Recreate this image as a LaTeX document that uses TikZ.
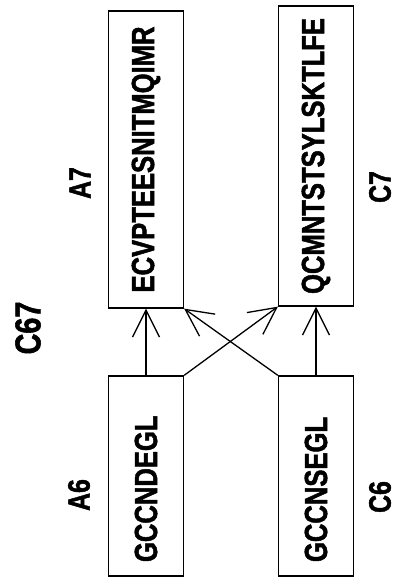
\documentclass[tikz,border=0pt]{standalone}
\usepackage{fontspec}
\newfontfamily\seqfont{Liberation Sans Bold}[FakeStretch=0.8,FakeBold=1.5]
\usetikzlibrary{arrows.meta}
\tikzstyle{seq} = [draw,line width=1.3pt,rotate=90,minimum height=75pt,inner sep=0pt,font=\seqfont\fontsize{32}{36}\selectfont]
\tikzstyle{lab} = [rotate=90,inner sep=0pt,font=\seqfont\fontsize{31}{36}\selectfont]
\tikzstyle{link} = [->,line width=1.3pt]

\begin{document}
\begin{tikzpicture}[x=1pt,y=1pt,>={Straight Barb[length=27pt,width=27pt]}]
\useasboundingbox (0,0) rectangle (398,581);

% Draw blocks and labels
    \def\ax{146}
    \def\cx{316}
    \node[seq,minimum width=297pt] at (\ax,421.5) (a7) {ECVPTEESNITMQIMR};
    \node[seq,minimum width=300pt] at (\cx,425) (c7) {QCMNTSTSYLSKTLFE};
    \node[seq,text width=172pt,inner xsep=14pt,align=left] at (\ax,105) (a6) {GCCNDEGL};
    \node[seq,text width=172pt,inner xsep=14pt,align=left] at (\cx,105) (c6) {GCCNSEGL};

    \node[lab] at (80,398) (a7lab) {A7};
    \node[lab] at (79,86) (a6lab) {A6};
    \node[lab] at (380,394) (c7lab) {C7};
    \node[lab] at (380,84) (c6lab) {C6};
    \node[lab,font=\seqfont\fontsize{36}{40}\selectfont] at (28,253) (c67) {C67};

% Draw arrows
    \draw[link] (a6.east) -- (a7.west);
    \draw[link] (c6.east) -- (c7.west);
    \draw[link] (a6.south east) -- (c7.north west);
    \draw[link] (c6.north east) -- (a7.south west);

\end{tikzpicture}
\end{document}
